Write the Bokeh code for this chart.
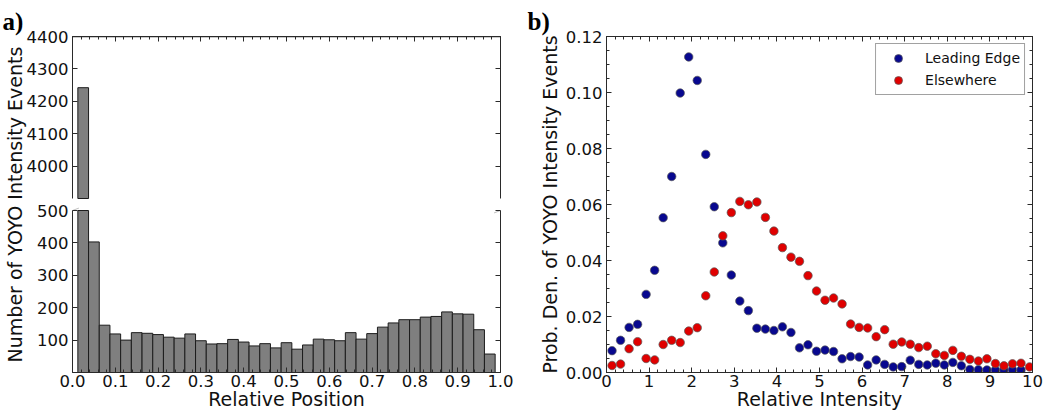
from bokeh.plotting import figure
from bokeh.layouts import row
from bokeh.models import (LinearAxis, Range1d, SingleIntervalTicker, FixedTicker,
                          PrintfTickFormatter, Legend, LegendItem, PolyAnnotation, Span)
from bokeh.embed import file_html
from bokeh.resources import INLINE

# ---------------- data ----------------
# panel a: histogram of relative position (bin centres, width 0.025)
position_centers = [0.025, 0.05, 0.075, 0.1, 0.125, 0.15, 0.175, 0.2, 0.225, 0.25,
                    0.275, 0.3, 0.325, 0.35, 0.375, 0.4, 0.425, 0.45, 0.475, 0.5,
                    0.525, 0.55, 0.575, 0.6, 0.625, 0.65, 0.675, 0.7, 0.725, 0.75,
                    0.775, 0.8, 0.825, 0.85, 0.875, 0.9, 0.925, 0.95, 0.975]
event_counts = [4242, 403, 146, 119, 100, 123, 121, 117, 109, 106,
                119, 98, 88, 89, 102, 94, 82, 89, 76, 92,
                72, 85, 103, 101, 98, 123, 103, 120, 140, 153,
                163, 163, 171, 173, 187, 181, 180, 132, 57]
bin_width = 0.025
count_ticks_upper = [4000, 4100, 4200, 4300, 4400]
count_ticks_lower = [100, 200, 300, 400, 500]
upper_start, upper_end = 3900, 4400
lower_start, lower_end = 0, 500

# panel b: probability density vs relative intensity
intensity_x = [0.13, 0.33, 0.53, 0.73, 0.93, 1.13, 1.33, 1.53, 1.73, 1.93,
               2.13, 2.33, 2.53, 2.73, 2.93, 3.13, 3.33, 3.53, 3.73, 3.93,
               4.13, 4.33, 4.53, 4.73, 4.93, 5.13, 5.33, 5.53, 5.73, 5.93,
               6.13, 6.33, 6.53, 6.73, 6.93, 7.13, 7.33, 7.53, 7.73, 7.93,
               8.13, 8.33, 8.53, 8.73, 8.93, 9.13, 9.33, 9.53, 9.73, 9.93]
leading_edge = [0.0078, 0.0115, 0.0161, 0.0172, 0.0279, 0.0365, 0.0553, 0.0700, 0.0998, 0.1127,
                0.1043, 0.0779, 0.0592, 0.0463, 0.0348, 0.0255, 0.0221, 0.0158, 0.0155, 0.0150,
                0.0163, 0.0143, 0.0088, 0.0099, 0.0076, 0.0080, 0.0075, 0.0049, 0.0057, 0.0055,
                0.0027, 0.0045, 0.0029, 0.0020, 0.0021, 0.0044, 0.0029, 0.0027, 0.0033, 0.0027,
                0.0036, 0.0024, 0.0011, 0.0010, 0.0009, 0.0009, 0.0009, 0.0010, 0.0009]
elsewhere = [0.0025, 0.0030, 0.0085, 0.0110, 0.0050, 0.0045, 0.0100, 0.0115, 0.0107, 0.0148,
             0.0160, 0.0274, 0.0359, 0.0488, 0.0571, 0.0611, 0.0599, 0.0609, 0.0554, 0.0505,
             0.0446, 0.0412, 0.0397, 0.0346, 0.0291, 0.0258, 0.0266, 0.0245, 0.0173, 0.0161,
             0.0159, 0.0128, 0.0153, 0.0101, 0.0109, 0.0101, 0.0089, 0.0094, 0.0067, 0.0061,
             0.0079, 0.0058, 0.0047, 0.0041, 0.0049, 0.0032, 0.0024, 0.0031, 0.0033, 0.0020]

# ---------------- style / layout ----------------
FONT = "DejaVu Sans"
AXC = "#2a2a2a"
TXT = "#111111"
BLUE = "#08088f"
RED = "#e00000"
H = 414
TOP_B, BOT_B = 36, 42
FRAME_H = H - TOP_B - BOT_B          # 336 px
SEG_H = 162                           # px height of each half of the broken axis


def make_fig(width, xr, yr, left, right, title, title_offset):
    p = figure(width=width, height=H, x_range=xr, y_range=yr, title=title,
               x_axis_type=None, y_axis_type=None, toolbar_location=None,
               output_backend="svg", outline_line_color=None,
               background_fill_color="white", border_fill_color="white",
               min_border_left=left, min_border_right=right,
               min_border_top=TOP_B, min_border_bottom=BOT_B)
    t = p.title
    t.align = "left"
    t.offset = title_offset
    t.vertical_align = "top"
    t.standoff = 0
    t.text_font = "Liberation Serif"
    t.text_font_style = "bold"
    t.text_font_size = "25px"
    t.text_color = "black"
    return p


def axis(ticker, labels=True, fmt=None, label=None, standoff=2, label_standoff=-2,
         line=True, pad=None, **kw):
    ax = LinearAxis(ticker=ticker, **kw)
    ax.axis_line_color = AXC if line else None
    ax.axis_line_width = 1
    ax.major_tick_line_color = AXC
    ax.minor_tick_line_color = AXC
    ax.major_tick_in = 5
    ax.major_tick_out = 0
    ax.minor_tick_in = 3
    ax.minor_tick_out = 0
    ax.major_label_text_font = FONT
    if labels:
        ax.formatter = PrintfTickFormatter(format=fmt)
        ax.major_label_text_color = TXT
        ax.major_label_text_font_size = "16.5px"
        ax.major_label_standoff = standoff
    elif pad is not None:
        # empty tick labels that only reserve a little room outside the spine
        ax.formatter = PrintfTickFormatter(format="")
        ax.major_label_text_color = TXT
        ax.major_label_text_font_size = "1px"
        ax.major_label_standoff = pad
    else:
        ax.formatter = PrintfTickFormatter(format="")
        ax.major_label_text_color = None
        ax.major_label_text_font_size = "1px"
        ax.major_label_standoff = 0
    if label:
        ax.axis_label = label
        ax.axis_label_text_font = FONT
        ax.axis_label_text_font_style = "normal"
        ax.axis_label_text_font_size = "19px"
        ax.axis_label_text_color = TXT
        ax.axis_label_standoff = label_standoff
    return ax


def no_ticks():
    return FixedTicker(ticks=[], minor_ticks=[])


# ---------------- panel a: one frame, broken y axis ----------------
per_px = (lower_end - lower_start) / SEG_H
lower_range = Range1d(lower_start, lower_start + FRAME_H * per_px)
upper_range = Range1d(upper_end - FRAME_H * per_px, upper_end)

a = make_fig(514, Range1d(0, 1), lower_range, 67, 14, "a)", -70)
a.extra_y_ranges = {"upper": upper_range}

# horizontal spines
a.add_layout(axis(SingleIntervalTicker(interval=0.1, num_minor_ticks=5), labels=False, pad=5),
             "above")
a.add_layout(axis(SingleIntervalTicker(interval=0.1, num_minor_ticks=5), fmt="%.1f",
                  label="Relative Position", label_standoff=-2), "below")
# top spine line (drawn on the frame edge as well)
a.add_layout(Span(location=upper_end, dimension="width", y_range_name="upper",
                  line_color=AXC, line_width=1.5))

# bars: lower part (cut at the top of the lower segment) and upper part
a.vbar(x=position_centers, top=[min(c, lower_end) for c in event_counts], width=bin_width,
       fill_color="#7f7f7f", line_color="#1c1c1c", line_width=1)
upper_x = [x for x, c in zip(position_centers, event_counts) if c > upper_start]
upper_c = [c for c in event_counts if c > upper_start]
a.vbar(x=upper_x, top=upper_c, bottom=upper_start, width=bin_width, y_range_name="upper",
       fill_color="#7f7f7f", line_color="#1c1c1c", line_width=1)

# left side: two spine pieces (zero size, nearest to the frame) then labels
a.add_layout(axis(no_ticks(), labels=False, bounds=(lower_start, lower_end)), "left")
a.add_layout(axis(no_ticks(), labels=False, bounds=(upper_start, upper_end),
                  y_range_name="upper"), "left")
upper_tick_pos = [lower_range.end - (upper_end - t) for t in count_ticks_upper]
left_lab = axis(FixedTicker(ticks=count_ticks_lower + upper_tick_pos, minor_ticks=[]),
                fmt="%d", standoff=4, line=False,
                label="Number of YOYO Intensity Events", label_standoff=-2)
left_lab.major_label_overrides = {p: str(t) for p, t in zip(upper_tick_pos, count_ticks_upper)}
a.add_layout(left_lab, "left")

# right side: two spine pieces with inward ticks
a.add_layout(axis(FixedTicker(ticks=count_ticks_lower, minor_ticks=[]), labels=False,
                  bounds=(lower_start, lower_end)), "right")
a.add_layout(axis(FixedTicker(ticks=count_ticks_upper, minor_ticks=[]), labels=False,
                  bounds=(upper_start, upper_end), y_range_name="upper"), "right")

# diagonal break marks
d = 0.015
dy = d * (upper_end - upper_start)
for x0 in (0.0, 1.0):
    a.add_layout(PolyAnnotation(xs=[x0 - d, x0 + d], ys=[upper_start - dy, upper_start + dy],
                                y_range_name="upper", fill_color=None, fill_alpha=0,
                                line_color=AXC, line_width=1))
    a.add_layout(PolyAnnotation(xs=[x0 - d, x0 + d], ys=[lower_end - dy, lower_end + dy],
                                fill_color=None, fill_alpha=0,
                                line_color=AXC, line_width=1))

# ---------------- panel b ----------------
b = make_fig(536, Range1d(0, 10), Range1d(0, 0.12), 92, 18, "b)", -79)

b.add_layout(axis(SingleIntervalTicker(interval=1, num_minor_ticks=5), labels=False, pad=5),
             "above")
b.add_layout(axis(SingleIntervalTicker(interval=1, num_minor_ticks=5), fmt="%d",
                  label="Relative Intensity", label_standoff=-2), "below")

r_lead = b.scatter(x=intensity_x[:len(leading_edge)], y=leading_edge, size=8.5,
                   fill_color=BLUE, line_color="#5a5a5a", line_width=0.7)
r_else = b.scatter(x=intensity_x[:len(elsewhere)], y=elsewhere, size=8.5,
                   fill_color=RED, line_color="#5a5a5a", line_width=0.7)

b.add_layout(axis(SingleIntervalTicker(interval=0.02, num_minor_ticks=4), fmt="%.2f",
                  standoff=4, label="Prob. Den. of YOYO Intensity Events",
                  label_standoff=2), "left")
b.add_layout(axis(SingleIntervalTicker(interval=0.02, num_minor_ticks=4), labels=False), "right")

legend = Legend(items=[LegendItem(label="Leading Edge", renderers=[r_lead]),
                       LegendItem(label="Elsewhere", renderers=[r_else])],
                location="top_right", margin=7, padding=4, spacing=2,
                glyph_width=36, glyph_height=20, label_height=20, label_standoff=9,
                label_text_font=FONT, label_text_font_size="14px", label_text_color=TXT,
                border_line_color="#444444", border_line_width=1,
                background_fill_color="white", background_fill_alpha=1)
b.add_layout(legend)

layout = row(a, b)

open("out.html", "w").write(file_html(layout, INLINE))
